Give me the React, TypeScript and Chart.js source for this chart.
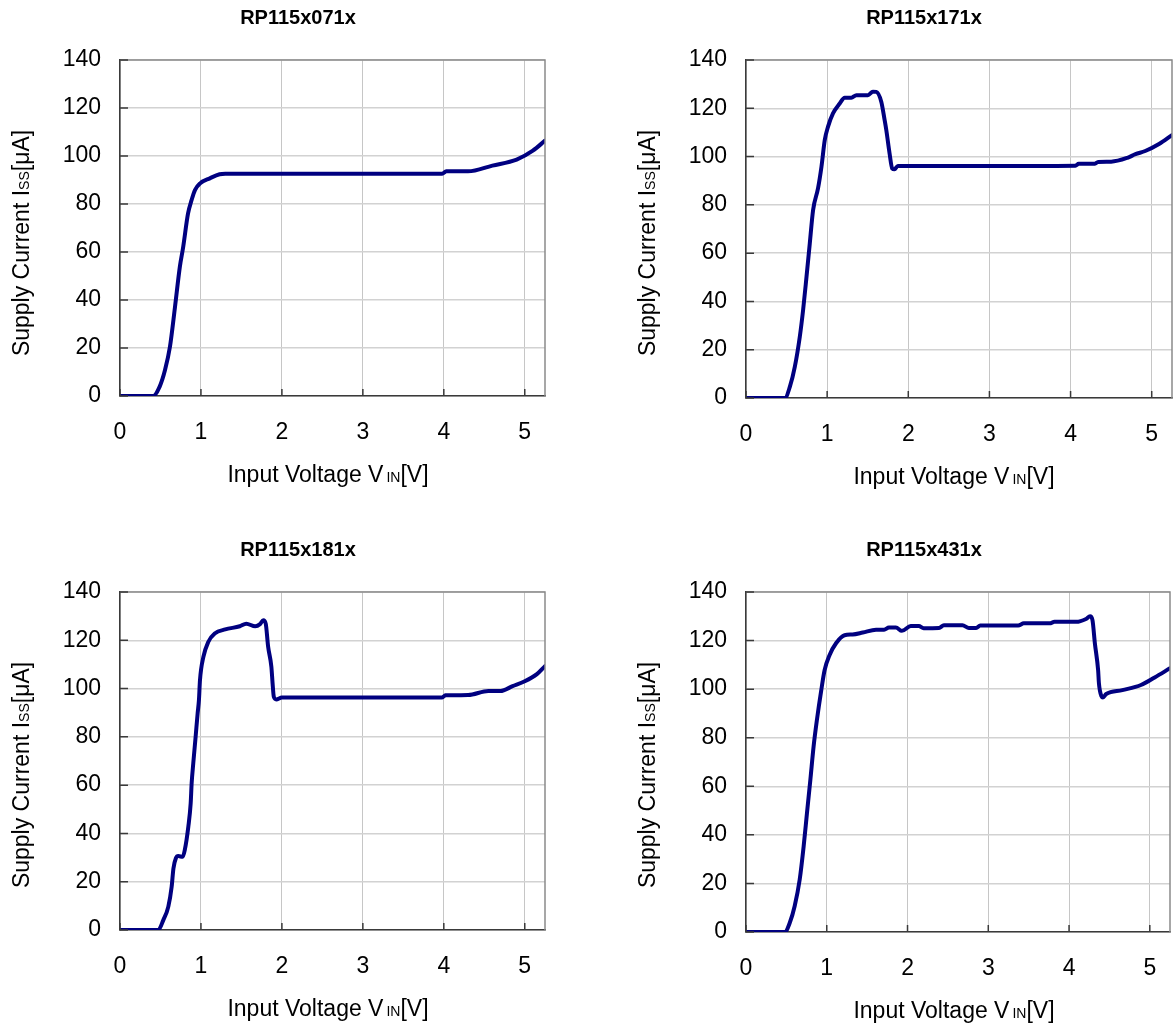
import React, { useEffect, useRef } from "react";
import { Chart, registerables } from "chart.js";

Chart.register(...registerables);

const FONT = '"Liberation Sans", Arial, Helvetica, sans-serif';

// ---- data ----
const titles = ["RP115x071x", "RP115x171x", "RP115x181x", "RP115x431x"];
const xTickValues = [0, 1, 2, 3, 4, 5];
const yTickValues = [0, 20, 40, 60, 80, 100, 120, 140];

const vin071 = [0, 0.41, 0.49, 0.556, 0.617, 0.679, 0.74, 0.78, 0.84, 0.885, 0.926, 0.99, 1.11, 1.23, 1.3, 2.0, 3.0, 3.98, 4.03, 4.3, 4.6, 4.9, 5.1, 5.25];
const iss071 = [0, 0, 3.9, 10.8, 20.5, 37, 54, 62, 76, 81.7, 85.8, 88.6, 90.7, 92.4, 92.6, 92.6, 92.6, 92.6, 93.6, 93.6, 96.0, 98.5, 102.2, 106.4];

const vin171 = [0, 0.479, 0.541, 0.602, 0.663, 0.704, 0.746, 0.786, 0.827, 0.888, 0.93, 0.971, 1.011, 1.072, 1.155, 1.216, 1.299, 1.36, 1.502, 1.564, 1.606, 1.667, 1.708, 1.729, 1.769, 1.802, 1.83, 1.871, 2.5, 3.5, 4.06, 4.1, 4.3, 4.34, 4.5, 4.7, 4.8, 4.92, 5.09, 5.25];
const iss171 = [0, 0, 4.7, 13, 25.4, 36.5, 50.3, 64, 77.9, 86.9, 95.8, 106.9, 112.4, 117.9, 122, 124.4, 124.4, 125.4, 125.4, 126.9, 126.8, 122.7, 115.2, 111, 101.4, 95.1, 94.7, 96.1, 96.1, 96.1, 96.2, 97.0, 97.0, 97.8, 97.9, 99.5, 101.0, 102.3, 105.2, 108.9];

const vin181 = [0, 0.473, 0.535, 0.597, 0.638, 0.66, 0.69, 0.72, 0.774, 0.8, 0.844, 0.873, 0.885, 0.905, 0.934, 0.959, 0.975, 0.988, 1.03, 1.09, 1.17, 1.3, 1.48, 1.56, 1.67, 1.73, 1.77, 1.8, 1.83, 1.87, 1.885, 1.9, 1.93, 2.0, 3.0, 3.98, 4.02, 4.3, 4.55, 4.7, 4.85, 5.0, 5.15, 5.25];
const iss181 = [0, 0, 4.1, 9.7, 17.9, 25.5, 29.7, 30.6, 30.3, 33.1, 42.8, 52.4, 60.7, 69, 80, 89.7, 95.2, 103.5, 113.1, 119.3, 122.8, 124.5, 125.8, 126.9, 125.8, 126.7, 128.3, 126.9, 117.3, 109, 102.1, 96.6, 95.5, 96.3, 96.3, 96.3, 97.2, 97.3, 99, 99, 101, 103, 106, 109.3];

const vin431 = [0, 0.48, 0.542, 0.603, 0.665, 0.714, 0.755, 0.797, 0.837, 0.878, 0.932, 0.973, 1.034, 1.117, 1.22, 1.32, 1.445, 1.61, 1.71, 1.77, 1.856, 1.93, 2.04, 2.14, 2.2, 2.39, 2.45, 2.68, 2.76, 2.85, 2.9, 3.37, 3.44, 3.76, 3.82, 4.09, 4.21, 4.26, 4.29, 4.32, 4.36, 4.37, 4.4, 4.42, 4.46, 4.66, 4.89, 5.06, 5.25];
const iss431 = [0, 0, 3.8, 10.7, 21.6, 35.3, 49, 62.7, 76.4, 87.3, 99.6, 107.8, 114, 119, 122.2, 122.5, 123.3, 124.5, 124.5, 125.4, 125.4, 124, 126, 126, 125.1, 125.2, 126.3, 126.3, 125.2, 125.2, 126.2, 126.2, 127.1, 127.1, 127.7, 127.7, 128.9, 130, 128.4, 118.8, 107.8, 102.4, 97.2, 96.6, 98, 99.6, 101.7, 104.8, 108.6];

type Run = [string, number, number];

function drawRuns(ctx: CanvasRenderingContext2D, runs: Run[], cx: number, baseline: number) {
  let total = 0;
  const widths: number[] = [];
  for (const [t, size, gap] of runs) {
    ctx.font = `${size}px ${FONT}`;
    const w = ctx.measureText(t).width;
    widths.push(w);
    total += w + gap;
  }
  let x = cx - total / 2;
  ctx.textAlign = "left";
  ctx.textBaseline = "alphabetic";
  runs.forEach(([t, size, gap], i) => {
    x += gap;
    ctx.font = `${size}px ${FONT}`;
    ctx.fillText(t, x, baseline);
    x += widths[i];
  });
}

function makeDecor(title: string) {
  return {
    id: "decor",
    afterDraw(chart: any) {
      const ctx: CanvasRenderingContext2D = chart.ctx;
      const a = chart.chartArea;
      const xs = chart.scales.x;
      const ys = chart.scales.y;
      ctx.save();
      // top / right frame
      ctx.strokeStyle = "#8a8a8a";
      ctx.lineWidth = 1.5;
      ctx.beginPath();
      ctx.moveTo(a.left, a.top);
      ctx.lineTo(a.right, a.top);
      ctx.lineTo(a.right, a.bottom);
      ctx.stroke();
      // inward tick marks
      ctx.strokeStyle = "#3a3a3a";
      ctx.lineWidth = 1.5;
      ctx.beginPath();
      for (const v of xTickValues) {
        const px = xs.getPixelForValue(v);
        ctx.moveTo(px, a.bottom);
        ctx.lineTo(px, a.bottom - 7);
      }
      for (const v of yTickValues) {
        const py = ys.getPixelForValue(v);
        ctx.moveTo(a.left, py);
        ctx.lineTo(a.left + 8, py);
      }
      ctx.stroke();
      // chart title
      ctx.fillStyle = "#000";
      ctx.font = `bold 20px ${FONT}`;
      ctx.textAlign = "center";
      ctx.textBaseline = "middle";
      ctx.fillText(title, a.left + 178, a.top - 42);
      // x axis title
      drawRuns(ctx, [["Input Voltage V", 23, 0], ["IN", 14, 3], ["[V]", 23, 0]], a.left + 208, a.bottom + 86);
      // y axis title
      ctx.translate(a.left - 91, a.top + 183);
      ctx.rotate(-Math.PI / 2);
      drawRuns(ctx, [["Supply Current I", 23, 0], ["SS", 14, 0], ["[μA]", 23, 0]], 0, 0);
      ctx.restore();
    },
  };
}

type PanelProps = {
  title: string;
  xs: number[];
  ys: number[];
  left: number;
  top: number;
  pad: { top: number; right: number; bottom: number };
};

const CANVAS_W = 550;
const CANVAS_H = 512;

function Panel({ title, xs, ys, left, top, pad }: PanelProps) {
  const ref = useRef<HTMLCanvasElement | null>(null);
  useEffect(() => {
    if (!ref.current) return;
    const points = xs.map((x, i) => ({ x, y: ys[i] }));
    const chart = new Chart(ref.current, {
      type: "line",
      data: {
        datasets: [
          {
            data: points,
            borderColor: "#000080",
            borderWidth: 4,
            pointRadius: 0,
            fill: false,
            cubicInterpolationMode: "monotone",
            borderJoinStyle: "round",
            borderCapStyle: "round",
          },
        ],
      },
      options: {
        responsive: false,
        animation: false,
        devicePixelRatio: 1,
        layout: { padding: { left: 0, top: pad.top, right: pad.right, bottom: pad.bottom } },
        plugins: { legend: { display: false }, title: { display: false }, tooltip: { enabled: false } },
        scales: {
          x: {
            type: "linear",
            min: 0,
            max: 5.25,
            afterFit: (s: any) => {
              s.height = 90;
              s.paddingLeft = 0;
              s.paddingRight = 0;
            },
            ticks: {
              stepSize: 1,
              includeBounds: false,
              padding: 23,
              color: "#000",
              font: { family: FONT, size: 23 },
              maxRotation: 0,
              autoSkip: false,
            },
            grid: { color: "#c6c6c6", lineWidth: 1, drawTicks: false },
            border: { display: true, color: "#3a3a3a", width: 1.5 },
          },
          y: {
            type: "linear",
            min: 0,
            max: 140,
            afterFit: (s: any) => {
              s.width = 120;
              s.paddingTop = 0;
              s.paddingBottom = 0;
            },
            ticks: {
              stepSize: 20,
              padding: 19,
              color: "#000",
              font: { family: FONT, size: 23 },
            },
            grid: { color: "#d2d2d2", lineWidth: 1.5, drawTicks: false },
            border: { display: true, color: "#3a3a3a", width: 1.5 },
          },
        },
      },
      plugins: [makeDecor(title)],
    } as any);
    return () => chart.destroy();
  }, [title, xs, ys, pad]);
  return (
    <canvas
      ref={ref}
      width={CANVAS_W}
      height={CANVAS_H}
      style={{ position: "absolute", left, top, width: CANVAS_W, height: CANVAS_H }}
    />
  );
}

const P1 = { top: 60, right: 5, bottom: 26 };
const P2 = { top: 60, right: 4, bottom: 24 };
const P3 = { top: 80, right: 5, bottom: 4 };
const P4 = { top: 80, right: 6, bottom: 2 };

export default function App() {
  return (
    <div style={{ position: "absolute", left: 0, top: 0, width: 1176, height: 1024, background: "#fff", overflow: "hidden" }}>
      <Panel title={titles[0]} xs={vin071} ys={iss071} left={0} top={0} pad={P1} />
      <Panel title={titles[1]} xs={vin171} ys={iss171} left={626} top={0} pad={P2} />
      <Panel title={titles[2]} xs={vin181} ys={iss181} left={0} top={512} pad={P3} />
      <Panel title={titles[3]} xs={vin431} ys={iss431} left={626} top={512} pad={P4} />
    </div>
  );
}
